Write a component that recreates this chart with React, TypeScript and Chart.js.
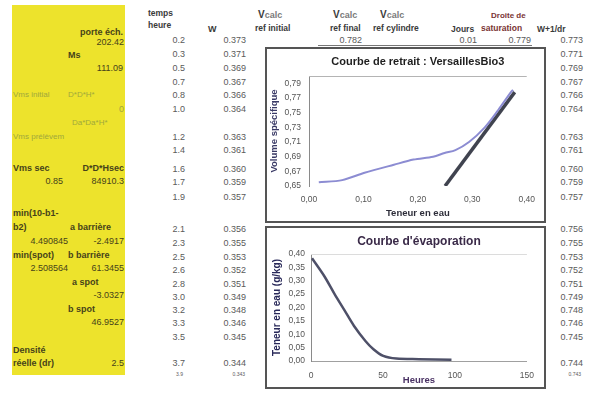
import React, { useEffect, useRef } from "react";
import { Chart, registerables } from "chart.js";

Chart.register(...registerables);

const FONT = '"Liberation Sans", Arial, Helvetica, sans-serif';
Chart.defaults.font.family = FONT;

// ---- spreadsheet columns ----
const tempsHeure = ["0.2", "0.3", "0.5", "0.7", "0.8", "1.0", "1.2", "1.4", "1.6", "1.7", "1.9", "2.1", "2.3", "2.5", "2.6", "2.8", "3.0", "3.2", "3.3", "3.5", "3.7"];
const teneurW = ["0.373", "0.371", "0.369", "0.367", "0.366", "0.364", "0.363", "0.361", "0.360", "0.359", "0.357", "0.356", "0.355", "0.353", "0.352", "0.351", "0.349", "0.348", "0.346", "0.345", "0.344"];
const wPlusInvDr = ["0.773", "0.771", "0.769", "0.767", "0.766", "0.764", "0.763", "0.761", "0.760", "0.759", "0.757", "0.756", "0.755", "0.753", "0.752", "0.751", "0.749", "0.748", "0.746", "0.745", "0.744"];
const firstRowExtras = ["0.782", "0.01", "0.779"]; // Vcalc ref final, Jours, Droite de saturation
const tinyRow = ["3.9", "0.343", "0.743"];

// sample parameters (yellow block)
const porteEch = "202.42";
const masseSeche = "111.09";
const vmsInitial = "0";
const vmsSec = ["0.85", "84910.3"];
const barriere = ["4.490845", "-2.4917", "2.508564", "61.3455"];
const spot = ["-3.0327", "46.9527"];
const densiteReelle = "2.5";

// ---- shrinkage curve: specific volume vs water content ----
const retraitW = [0.018, 0.061, 0.102, 0.156, 0.192, 0.228, 0.249, 0.269, 0.294, 0.323, 0.348, 0.371, 0.375];
const retraitV = [0.655, 0.658, 0.668, 0.679, 0.686, 0.690, 0.695, 0.699, 0.710, 0.730, 0.754, 0.778, 0.781];
const saturationW = [0.25, 0.378];
const saturationV = [0.65, 0.778];
const retraitYTicks = [0.65, 0.67, 0.69, 0.71, 0.73, 0.75, 0.77, 0.79];

// ---- evaporation curve: water content vs hours ----
const evapHeures = [0.7, 9.5, 16.3, 23.1, 29.9, 37.8, 43.4, 50.2, 59.3, 75, 97.6];
const evapTeneur = [0.384, 0.315, 0.251, 0.191, 0.131, 0.075, 0.044, 0.019, 0.009, 0.007, 0.005];

// row centres of the sheet
const rowY = [40, 54, 68, 82, 95, 109, 137, 150, 169, 182, 197, 229, 243, 257, 270, 284, 297, 310, 323, 337, 363];

const PAGE_W = 599;
const comma = (v: number, d: number) => Number(v).toFixed(d).replace(".", ",");

type TxtProps = {
  x: number;
  y: number;
  children: React.ReactNode;
  align?: "left" | "right";
  bold?: boolean;
  color?: string;
  size?: number;
};

function Txt({ x, y, children, align = "left", bold = false, color = "#5a5a5a", size = 9 }: TxtProps) {
  const style: React.CSSProperties = {
    position: "absolute",
    top: y - 6,
    lineHeight: "12px",
    fontSize: size,
    fontWeight: bold ? 700 : 400,
    color,
    whiteSpace: "nowrap",
    fontFamily: FONT,
  };
  if (align === "right") style.right = PAGE_W - x;
  else style.left = x;
  return <div style={style}>{children}</div>;
}

const framePlugin = {
  id: "frame",
  beforeDatasetsDraw(chart: any, _a: any, opts: any) {
    const { ctx, chartArea } = chart;
    if (opts.topLine) {
      ctx.save();
      ctx.strokeStyle = opts.topLine;
      ctx.lineWidth = 1;
      ctx.beginPath();
      ctx.moveTo(chartArea.left, chartArea.top + 0.5);
      ctx.lineTo(chartArea.right, chartArea.top + 0.5);
      ctx.stroke();
      ctx.restore();
    }
  },
  afterDraw(chart: any, _a: any, opts: any) {
    const { ctx, chartArea } = chart;
    ctx.save();
    ctx.font = opts.font;
    ctx.fillStyle = opts.color;
    ctx.textAlign = "center";
    ctx.textBaseline = "middle";
    ctx.fillText(opts.text, (chartArea.left + chartArea.right) / 2, opts.y);
    ctx.restore();
  },
};

function RetraitChart() {
  const ref = useRef<HTMLCanvasElement>(null);
  useEffect(() => {
    const chart = new Chart(ref.current as HTMLCanvasElement, {
      type: "scatter",
      data: {
        datasets: [
          {
            data: retraitW.map((w, i) => ({ x: w, y: retraitV[i] })),
            showLine: true,
            borderColor: "#8c8cd2",
            borderWidth: 2,
            pointRadius: 0,
            tension: 0.3,
          },
          {
            data: saturationW.map((w, i) => ({ x: w, y: saturationV[i] })),
            showLine: true,
            borderColor: "#40434f",
            borderWidth: 3.5,
            pointRadius: 0,
          },
        ],
      },
      options: {
        animation: false,
        responsive: false,
        devicePixelRatio: 1,
        layout: { padding: { top: 27, right: 13, left: 0, bottom: 0 } },
        plugins: {
          legend: { display: false },
          tooltip: { enabled: false },
          frame: {
            text: "Courbe de retrait : VersaillesBio3",
            font: `bold 11px ${FONT}`,
            color: "#1e1e1e",
            y: 13,
            topLine: "#b4b4b4",
          },
        } as any,
        scales: {
          x: {
            type: "linear",
            min: 0,
            max: 0.4,
            ticks: { stepSize: 0.1, callback: (v: any) => comma(v, 2), font: { size: 8.5 }, color: "#555", padding: 9 },
            grid: { display: false, drawTicks: false },
            border: { display: false },
            title: { display: true, text: "Teneur en eau", font: { size: 9.5, weight: "bold" }, color: "#2e2e3a", padding: { top: 0, bottom: 2 } },
            afterFit: (s: any) => { s.height = 35; },
          },
          y: {
            type: "linear",
            min: 0.65,
            max: 0.8,
            afterBuildTicks: (s: any) => { s.ticks = retraitYTicks.map((v) => ({ value: v })); },
            ticks: { callback: (v: any) => comma(v, 2), font: { size: 8.5 }, color: "#555", padding: 8 },
            grid: { display: false, drawTicks: false },
            border: { display: true, color: "#8a8a8a" },
            title: { display: true, text: "Volume spécifique", font: { size: 9.5, weight: "bold" }, color: "#3a3a66", padding: { top: 2, bottom: 0 } },
            afterFit: (s: any) => { s.width = 42; },
          },
        },
      } as any,
      plugins: [framePlugin as any],
    });
    return () => chart.destroy();
  }, []);
  return <canvas ref={ref} width={277} height={172} style={{ display: "block", width: 277, height: 172 }} />;
}

function EvaporationChart() {
  const ref = useRef<HTMLCanvasElement>(null);
  useEffect(() => {
    const chart = new Chart(ref.current as HTMLCanvasElement, {
      type: "scatter",
      data: {
        datasets: [
          {
            data: evapHeures.map((h, i) => ({ x: h, y: evapTeneur[i] })),
            showLine: true,
            borderColor: "#4e5068",
            borderWidth: 2.5,
            pointRadius: 0,
            tension: 0.3,
          },
        ],
      },
      options: {
        animation: false,
        responsive: false,
        devicePixelRatio: 1,
        layout: { padding: { top: 26, right: 12, left: 0, bottom: 0 } },
        plugins: {
          legend: { display: false },
          tooltip: { enabled: false },
          frame: {
            text: "Courbe d'évaporation",
            font: `bold 12px ${FONT}`,
            color: "#3a2a48",
            y: 14,
            topLine: "#dcdcdc",
          },
        } as any,
        scales: {
          x: {
            type: "linear",
            min: 0,
            max: 150,
            ticks: { stepSize: 50, font: { size: 8.5 }, color: "#555", padding: 10 },
            grid: { display: false, drawTicks: false },
            border: { display: true, color: "#a0a0a0" },
            title: { display: true, text: "Heures", font: { size: 9.5, weight: "bold" }, color: "#4a3264", padding: { top: 0, bottom: 1 } },
            afterFit: (s: any) => { s.height = 26; },
          },
          y: {
            type: "linear",
            min: 0,
            max: 0.4,
            ticks: { stepSize: 0.05, callback: (v: any) => comma(v, 2), font: { size: 8.5 }, color: "#555", padding: 6 },
            grid: { display: false, drawTicks: false },
            border: { display: true, color: "#8a8a8a" },
            title: { display: true, text: "Teneur en eau (g/kg)", font: { size: 10, weight: "bold" }, color: "#2a2a5a", padding: { top: 4, bottom: 0 } },
            afterFit: (s: any) => { s.width = 44; },
          },
        },
      } as any,
      plugins: [framePlugin as any],
    });
    return () => chart.destroy();
  }, []);
  return <canvas ref={ref} width={277} height={159} style={{ display: "block", width: 277, height: 159 }} />;
}

const YEL_DARK = "#46421a";
const YEL_LIGHT = "#a0a83c";
const HEAD = "#3a3a3a";

function Vcalc({ x, y }: { x: number; y: number }) {
  return (
    <Txt x={x} y={y} bold color={HEAD}>
      <span style={{ fontSize: 10 }}>V</span>
      <span style={{ color: "#7a7a7a" }}>calc</span>
    </Txt>
  );
}

export default function App() {
  return (
    <div
      style={{
        position: "fixed",
        left: 0,
        top: 0,
        width: 599,
        height: 393,
        background: "#ffffff",
        overflow: "hidden",
        fontFamily: FONT,
      }}
    >
      {/* yellow parameter block */}
      <div style={{ position: "absolute", left: 12, top: 5, width: 113, height: 370, background: "#ede32c" }} />
      <Txt x={123} y={32} align="right" bold color={YEL_DARK}>porte éch.</Txt>
      <Txt x={124} y={42} align="right" color={YEL_DARK}>{porteEch}</Txt>
      <Txt x={68} y={55} bold color={YEL_DARK}>Ms</Txt>
      <Txt x={123} y={68} align="right" color={YEL_DARK}>{masseSeche}</Txt>
      <Txt x={13} y={95} color={YEL_LIGHT} size={8}>Vms initial</Txt>
      <Txt x={68} y={95} color={YEL_LIGHT} size={8}>D*D*H*</Txt>
      <Txt x={124} y={109} align="right" color={YEL_LIGHT}>{vmsInitial}</Txt>
      <Txt x={72} y={123} color={YEL_LIGHT} size={8}>Da*Da*H*</Txt>
      <Txt x={13} y={137} color={YEL_LIGHT} size={8}>Vms prélèvem</Txt>
      <Txt x={13} y={168} bold color={YEL_DARK}>Vms sec</Txt>
      <Txt x={124} y={168} align="right" bold color={YEL_DARK}>D*D*Hsec</Txt>
      <Txt x={63} y={181} align="right" color={YEL_DARK}>{vmsSec[0]}</Txt>
      <Txt x={124} y={181} align="right" color={YEL_DARK}>{vmsSec[1]}</Txt>
      <Txt x={13} y={213} bold color={YEL_DARK}>min(10-b1-</Txt>
      <Txt x={13} y={227} bold color={YEL_DARK}>b2)</Txt>
      <Txt x={70} y={227} bold color={YEL_DARK}>a barrière</Txt>
      <Txt x={68} y={241} align="right" color={YEL_DARK}>{barriere[0]}</Txt>
      <Txt x={124} y={241} align="right" color={YEL_DARK}>{barriere[1]}</Txt>
      <Txt x={13} y={255} bold color={YEL_DARK}>min(spot)</Txt>
      <Txt x={68} y={255} bold color={YEL_DARK}>b barrière</Txt>
      <Txt x={68} y={268} align="right" color={YEL_DARK}>{barriere[2]}</Txt>
      <Txt x={124} y={268} align="right" color={YEL_DARK}>{barriere[3]}</Txt>
      <Txt x={72} y={282} bold color={YEL_DARK}>a spot</Txt>
      <Txt x={124} y={295} align="right" color={YEL_DARK}>{spot[0]}</Txt>
      <Txt x={68} y={309} bold color={YEL_DARK}>b spot</Txt>
      <Txt x={124} y={322} align="right" color={YEL_DARK}>{spot[1]}</Txt>
      <Txt x={13} y={350} bold color={YEL_DARK}>Densité</Txt>
      <Txt x={13} y={363} bold color={YEL_DARK}>réelle (dr)</Txt>
      <Txt x={124} y={363} align="right" color={YEL_DARK}>{densiteReelle}</Txt>

      {/* column headers */}
      <Txt x={148} y={13} bold color={HEAD} size={8.5}>temps</Txt>
      <Txt x={148} y={25} bold color={HEAD} size={8.5}>heure</Txt>
      <Txt x={208} y={29} bold color={HEAD}>W</Txt>
      <Vcalc x={258} y={15} />
      <Txt x={255} y={28} bold color={HEAD} size={8.5}>ref initial</Txt>
      <Vcalc x={333} y={15} />
      <Txt x={330} y={28} bold color={HEAD} size={8.5}>ref final</Txt>
      <Vcalc x={380} y={15} />
      <Txt x={373} y={28} bold color={HEAD} size={8.5}>ref cylindre</Txt>
      <Txt x={451} y={29} bold color={HEAD} size={8.5}>Jours</Txt>
      <Txt x={491} y={16} bold color="#7a3434" size={8}>Droite de</Txt>
      <Txt x={481} y={28} bold color="#7a3434" size={8.5}>saturation</Txt>
      <Txt x={537} y={29} bold color={HEAD} size={8.5}>W+1/dr</Txt>

      {/* first row extras */}
      <Txt x={362} y={rowY[0]} align="right">{firstRowExtras[0]}</Txt>
      <Txt x={477} y={rowY[0]} align="right">{firstRowExtras[1]}</Txt>
      <Txt x={531} y={rowY[0]} align="right">{firstRowExtras[2]}</Txt>
      <div style={{ position: "absolute", left: 318, top: 45, width: 214, height: 1, background: "#777" }} />

      {/* sheet columns */}
      {tempsHeure.map((t, i) => (
        <Txt key={"t" + i} x={185} y={rowY[i]} align="right">{t}</Txt>
      ))}
      {teneurW.map((t, i) => (
        <Txt key={"w" + i} x={246} y={rowY[i]} align="right">{t}</Txt>
      ))}
      {wPlusInvDr.map((t, i) => (
        <Txt key={"d" + i} x={583} y={rowY[i]} align="right">{t}</Txt>
      ))}
      <Txt x={183} y={374} align="right" size={5}>{tinyRow[0]}</Txt>
      <Txt x={245} y={374} align="right" size={5}>{tinyRow[1]}</Txt>
      <Txt x={581} y={374} align="right" size={5}>{tinyRow[2]}</Txt>

      {/* embedded charts */}
      <div
        style={{
          position: "absolute",
          left: 265,
          top: 47,
          width: 281,
          height: 176,
          border: "2px solid #555",
          boxSizing: "border-box",
          background: "#fff",
        }}
      >
        <RetraitChart />
      </div>
      <div
        style={{
          position: "absolute",
          left: 265,
          top: 226,
          width: 281,
          height: 163,
          border: "2px solid #555",
          boxSizing: "border-box",
          background: "#fff",
        }}
      >
        <EvaporationChart />
      </div>
    </div>
  );
}
